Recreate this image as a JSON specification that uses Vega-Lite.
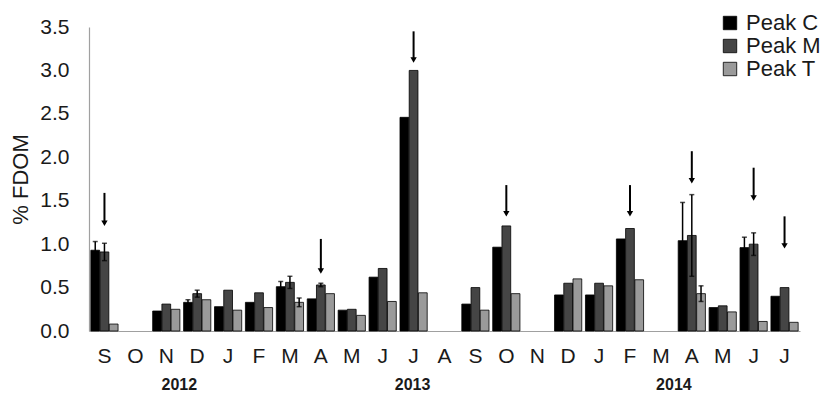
{
  "$schema": "https://vega.github.io/schema/vega-lite/v6.json",
  "width": 711,
  "height": 304,
  "autosize": {"type": "none"},
  "padding": {"left": 89, "top": 27, "right": 40, "bottom": 72},
  "config": {"view": {"stroke": null}, "font": "Liberation Sans", "axis": {"grid": false}},
  "datasets": {
    "fdom": [
      {"month": "2012-09", "peak": "Peak C", "value": 0.93, "err": 0.10},
      {"month": "2012-09", "peak": "Peak M", "value": 0.91, "err": 0.10},
      {"month": "2012-09", "peak": "Peak T", "value": 0.08, "err": 0},
      {"month": "2012-11", "peak": "Peak C", "value": 0.23, "err": 0},
      {"month": "2012-11", "peak": "Peak M", "value": 0.31, "err": 0},
      {"month": "2012-11", "peak": "Peak T", "value": 0.25, "err": 0},
      {"month": "2012-12", "peak": "Peak C", "value": 0.33, "err": 0.03},
      {"month": "2012-12", "peak": "Peak M", "value": 0.43, "err": 0.04},
      {"month": "2012-12", "peak": "Peak T", "value": 0.36, "err": 0},
      {"month": "2013-01", "peak": "Peak C", "value": 0.28, "err": 0},
      {"month": "2013-01", "peak": "Peak M", "value": 0.47, "err": 0},
      {"month": "2013-01", "peak": "Peak T", "value": 0.24, "err": 0},
      {"month": "2013-02", "peak": "Peak C", "value": 0.33, "err": 0},
      {"month": "2013-02", "peak": "Peak M", "value": 0.44, "err": 0},
      {"month": "2013-02", "peak": "Peak T", "value": 0.27, "err": 0},
      {"month": "2013-03", "peak": "Peak C", "value": 0.51, "err": 0.06},
      {"month": "2013-03", "peak": "Peak M", "value": 0.56, "err": 0.07},
      {"month": "2013-03", "peak": "Peak T", "value": 0.33, "err": 0.05},
      {"month": "2013-04", "peak": "Peak C", "value": 0.37, "err": 0},
      {"month": "2013-04", "peak": "Peak M", "value": 0.53, "err": 0.02},
      {"month": "2013-04", "peak": "Peak T", "value": 0.43, "err": 0},
      {"month": "2013-05", "peak": "Peak C", "value": 0.24, "err": 0},
      {"month": "2013-05", "peak": "Peak M", "value": 0.25, "err": 0},
      {"month": "2013-05", "peak": "Peak T", "value": 0.18, "err": 0},
      {"month": "2013-06", "peak": "Peak C", "value": 0.62, "err": 0},
      {"month": "2013-06", "peak": "Peak M", "value": 0.72, "err": 0},
      {"month": "2013-06", "peak": "Peak T", "value": 0.34, "err": 0},
      {"month": "2013-07", "peak": "Peak C", "value": 2.46, "err": 0},
      {"month": "2013-07", "peak": "Peak M", "value": 3.00, "err": 0},
      {"month": "2013-07", "peak": "Peak T", "value": 0.44, "err": 0},
      {"month": "2013-09", "peak": "Peak C", "value": 0.31, "err": 0},
      {"month": "2013-09", "peak": "Peak M", "value": 0.50, "err": 0},
      {"month": "2013-09", "peak": "Peak T", "value": 0.24, "err": 0},
      {"month": "2013-10", "peak": "Peak C", "value": 0.965, "err": 0},
      {"month": "2013-10", "peak": "Peak M", "value": 1.21, "err": 0},
      {"month": "2013-10", "peak": "Peak T", "value": 0.43, "err": 0},
      {"month": "2013-12", "peak": "Peak C", "value": 0.415, "err": 0},
      {"month": "2013-12", "peak": "Peak M", "value": 0.55, "err": 0},
      {"month": "2013-12", "peak": "Peak T", "value": 0.60, "err": 0},
      {"month": "2014-01", "peak": "Peak C", "value": 0.415, "err": 0},
      {"month": "2014-01", "peak": "Peak M", "value": 0.55, "err": 0},
      {"month": "2014-01", "peak": "Peak T", "value": 0.52, "err": 0},
      {"month": "2014-02", "peak": "Peak C", "value": 1.06, "err": 0},
      {"month": "2014-02", "peak": "Peak M", "value": 1.18, "err": 0},
      {"month": "2014-02", "peak": "Peak T", "value": 0.59, "err": 0},
      {"month": "2014-04", "peak": "Peak C", "value": 1.04, "err": 0.44},
      {"month": "2014-04", "peak": "Peak M", "value": 1.10, "err": 0.47},
      {"month": "2014-04", "peak": "Peak T", "value": 0.43, "err": 0.09},
      {"month": "2014-05", "peak": "Peak C", "value": 0.27, "err": 0},
      {"month": "2014-05", "peak": "Peak M", "value": 0.29, "err": 0},
      {"month": "2014-05", "peak": "Peak T", "value": 0.22, "err": 0},
      {"month": "2014-06", "peak": "Peak C", "value": 0.96, "err": 0.12},
      {"month": "2014-06", "peak": "Peak M", "value": 1.00, "err": 0.13},
      {"month": "2014-06", "peak": "Peak T", "value": 0.11, "err": 0},
      {"month": "2014-07", "peak": "Peak C", "value": 0.40, "err": 0},
      {"month": "2014-07", "peak": "Peak M", "value": 0.50, "err": 0},
      {"month": "2014-07", "peak": "Peak T", "value": 0.10, "err": 0}
    ],
    "arrows": [
      {"month": "2012-09", "top": 1.59, "tip": 1.24},
      {"month": "2013-04", "top": 1.06, "tip": 0.69},
      {"month": "2013-07", "top": 3.45, "tip": 3.12},
      {"month": "2013-10", "top": 1.68, "tip": 1.35},
      {"month": "2014-02", "top": 1.68, "tip": 1.35},
      {"month": "2014-04", "top": 2.07, "tip": 1.73},
      {"month": "2014-06", "top": 1.88, "tip": 1.53},
      {"month": "2014-07", "top": 1.32, "tip": 0.98}
    ],
    "years": [
      {"month": "2012-11", "year": "2012", "shift": "yes"},
      {"month": "2013-07", "year": "2013", "shift": "no"},
      {"month": "2014-03", "year": "2014", "shift": "yes"}
    ]
  },
  "layer": [
    {
      "data": {"name": "fdom"},
      "mark": {"type": "bar", "stroke": "#000000", "strokeWidth": 0.8},
      "encoding": {
        "x": {
          "field": "month", "type": "nominal",
          "scale": {
            "domain": ["2012-09","2012-10","2012-11","2012-12","2013-01","2013-02","2013-03","2013-04","2013-05","2013-06","2013-07","2013-08","2013-09","2013-10","2013-11","2013-12","2014-01","2014-02","2014-03","2014-04","2014-05","2014-06","2014-07"],
            "paddingInner": 0.12, "paddingOuter": 0.06
          },
          "axis": {
            "title": null, "labelAngle": 0, "ticks": false,
            "labelExpr": "['J','F','M','A','M','J','J','A','S','O','N','D'][toNumber(split(datum.value,'-')[1]) - 1]",
            "labelFontSize": 21, "labelColor": "#1a1a1a", "labelPadding": 14,
            "domainColor": "#a0a0a0", "domainWidth": 1.2
          }
        },
        "xOffset": {"field": "peak", "type": "nominal", "scale": {"domain": ["Peak C", "Peak M", "Peak T"], "paddingInner": 0.05}},
        "y": {
          "field": "value", "type": "quantitative",
          "scale": {"domain": [0, 3.5], "nice": false},
          "axis": {
            "values": [0, 0.5, 1, 1.5, 2, 2.5, 3, 3.5], "format": ".1f",
            "ticks": false, "labelFontSize": 21, "labelColor": "#1a1a1a", "labelPadding": 20,
            "domainColor": "#a0a0a0", "domainWidth": 1.2,
            "title": "% FDOM", "titleFontSize": 22, "titleFontWeight": "normal", "titleColor": "#1a1a1a", "titlePadding": 7
          }
        },
        "color": {
          "field": "peak", "type": "nominal",
          "scale": {"domain": ["Peak C", "Peak M", "Peak T"], "range": ["#000000", "#454545", "#9a9a9a"]},
          "legend": {
            "title": null, "orient": "none", "legendX": 630, "legendY": -15,
            "symbolType": "square", "symbolSize": 180, "symbolStrokeColor": "#000000", "symbolStrokeWidth": 0.8,
            "labelFontSize": 22, "labelColor": "#1a1a1a", "labelOffset": 5, "rowPadding": 1, "padding": 0
          }
        }
      }
    },
    {
      "data": {"name": "fdom"},
      "transform": [
        {"filter": "datum.err > 0"},
        {"calculate": "datum.value - datum.err", "as": "lo"},
        {"calculate": "datum.value + datum.err", "as": "hi"}
      ],
      "layer": [
        {
          "mark": {"type": "rule", "color": "#000000", "strokeWidth": 1.5},
          "encoding": {
            "x": {"field": "month", "type": "nominal"},
            "xOffset": {"field": "peak", "type": "nominal"},
            "y": {"field": "lo", "type": "quantitative"},
            "y2": {"field": "hi"}
          }
        },
        {
          "mark": {"type": "tick", "color": "#000000", "size": 5, "thickness": 1.5, "orient": "horizontal"},
          "encoding": {
            "x": {"field": "month", "type": "nominal"},
            "xOffset": {"field": "peak", "type": "nominal"},
            "y": {"field": "hi", "type": "quantitative"}
          }
        },
        {
          "mark": {"type": "tick", "color": "#000000", "size": 5, "thickness": 1.5, "orient": "horizontal"},
          "encoding": {
            "x": {"field": "month", "type": "nominal"},
            "xOffset": {"field": "peak", "type": "nominal"},
            "y": {"field": "lo", "type": "quantitative"}
          }
        }
      ]
    },
    {
      "data": {"name": "arrows"},
      "mark": {"type": "rule", "color": "#000000", "strokeWidth": 2},
      "encoding": {
        "x": {"field": "month", "type": "nominal"},
        "y": {"field": "top", "type": "quantitative"},
        "y2": {"field": "tip"}
      }
    },
    {
      "data": {"name": "arrows"},
      "mark": {"type": "point", "shape": "triangle-down", "filled": true, "color": "#000000", "opacity": 1, "size": 40},
      "encoding": {
        "x": {"field": "month", "type": "nominal"},
        "y": {"field": "tip", "type": "quantitative"}
      }
    },
    {
      "data": {"name": "years"},
      "transform": [{"filter": "datum.shift == 'yes'"}],
      "mark": {"type": "text", "fontSize": 16, "fontWeight": "bold", "color": "#1a1a1a", "dx": 13, "dy": 54, "baseline": "middle"},
      "encoding": {
        "x": {"field": "month", "type": "nominal"},
        "y": {"datum": 0, "type": "quantitative"},
        "text": {"field": "year"}
      }
    },
    {
      "data": {"name": "years"},
      "transform": [{"filter": "datum.shift == 'no'"}],
      "mark": {"type": "text", "fontSize": 16, "fontWeight": "bold", "color": "#1a1a1a", "dx": -1, "dy": 54, "baseline": "middle"},
      "encoding": {
        "x": {"field": "month", "type": "nominal"},
        "y": {"datum": 0, "type": "quantitative"},
        "text": {"field": "year"}
      }
    }
  ]
}
